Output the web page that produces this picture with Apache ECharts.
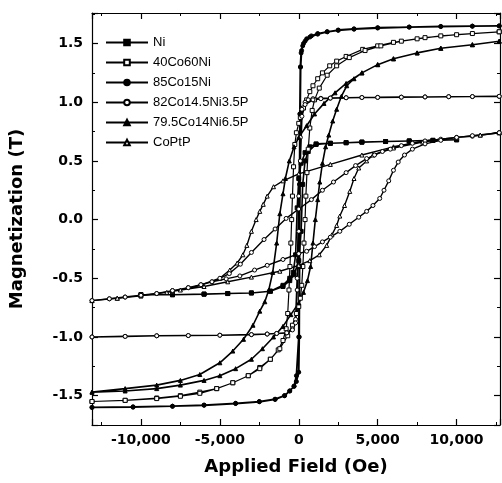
<!DOCTYPE html>
<html><head><meta charset="utf-8">
<script src="https://cdn.jsdelivr.net/npm/echarts@6/dist/echarts.min.js"></script>
<style>html,body{margin:0;padding:0;background:#fff}#c{width:502px;height:483px}</style>
</head><body><div id="c"></div>
<script>
// Series names (legend order)
const seriesNames = ['Ni', '40Co60Ni', '85Co15Ni', '82Co14.5Ni3.5P', '79.5Co14Ni6.5P', 'CoPtP'];

// Applied field H (Oe), magnetization M (T): [H, M]
const niDesc = [[10000,0.68],[8500,0.675],[7000,0.67],[5500,0.665],[4000,0.66],[3000,0.655],[2000,0.65],[1100,0.645],[700,0.62],[400,0.57],[150,0.48],[0,0.35],[-100,0.1],[-200,-0.3],[-350,-0.45],[-570,-0.5],[-1000,-0.56],[-1800,-0.61],[-3000,-0.625],[-4500,-0.63],[-6000,-0.635],[-8000,-0.64],[-10000,-0.64]];
const niAsc = [[-10000,-0.64],[-8000,-0.64],[-6000,-0.635],[-4500,-0.63],[-3000,-0.625],[-1800,-0.61],[-1000,-0.57],[-570,-0.52],[-300,-0.47],[0,-0.35],[150,-0.1],[250,0.3],[400,0.5],[600,0.58],[1100,0.64],[2000,0.65],[3000,0.655],[4000,0.66],[5500,0.665],[7000,0.67],[8500,0.675],[10000,0.68]];

const co40Desc = [[12700,1.60],[11000,1.585],[9000,1.565],[7500,1.54],[6000,1.51],[5000,1.48],[4050,1.45],[3000,1.39],[2400,1.35],[1960,1.31],[1500,1.25],[1200,1.2],[900,1.14],[700,1.09],[500,1.02],[300,0.95],[100,0.87],[0,0.82],[-150,0.74],[-250,0.64],[-330,0.45],[-400,0.2],[-450,0.0],[-500,-0.2],[-560,-0.4],[-620,-0.6],[-700,-0.8],[-800,-0.93],[-1000,-1.03],[-1300,-1.11],[-1800,-1.19],[-2470,-1.26],[-3200,-1.33],[-4180,-1.39],[-5200,-1.44],[-6270,-1.47],[-7500,-1.50],[-9000,-1.52],[-11000,-1.54],[-13100,-1.55]];
const co40Asc = [[-13100,-1.55],[-11000,-1.54],[-9000,-1.525],[-7500,-1.505],[-6270,-1.48],[-5200,-1.44],[-4180,-1.39],[-3200,-1.33],[-2470,-1.27],[-1800,-1.19],[-1200,-1.10],[-700,-0.99],[-400,-0.9],[-150,-0.8],[0,-0.74],[100,-0.67],[190,-0.56],[260,-0.4],[330,-0.2],[400,0.0],[450,0.2],[520,0.4],[600,0.6],[700,0.78],[850,0.93],[1000,1.02],[1300,1.12],[1800,1.23],[2400,1.31],[3200,1.38],[4200,1.44],[5200,1.48],[6500,1.52],[8000,1.55],[10000,1.575],[12700,1.60]];

const co85Desc = [[12700,1.65],[11000,1.648],[9000,1.645],[7000,1.64],[5000,1.635],[3500,1.625],[2500,1.615],[1800,1.60],[1200,1.585],[800,1.565],[500,1.54],[300,1.50],[180,1.44],[120,1.3],[90,0.9],[70,0.3],[50,-0.4],[30,-1.0],[0,-1.3],[-150,-1.38],[-300,-1.42],[-570,-1.46],[-900,-1.50],[-1500,-1.53],[-2500,-1.55],[-4000,-1.565],[-6000,-1.58],[-8000,-1.59],[-10500,-1.595],[-13100,-1.60]];
const co85Asc = [[-13100,-1.60],[-10500,-1.598],[-8000,-1.59],[-6000,-1.582],[-4000,-1.567],[-2500,-1.552],[-1500,-1.532],[-900,-1.50],[-570,-1.46],[-300,-1.42],[-150,-1.33],[0,-1.0],[30,-0.4],[50,0.3],[70,0.9],[100,1.3],[150,1.42],[250,1.48],[400,1.52],[700,1.555],[1200,1.58],[1800,1.60],[2500,1.612],[3500,1.622],[5000,1.632],[7000,1.64],[9000,1.645],[11000,1.648],[12700,1.65]];

const co82Desc = [[12700,1.05],[11000,1.048],[9500,1.047],[8000,1.045],[6500,1.043],[5000,1.041],[4000,1.04],[3000,1.038],[2000,1.035],[1400,1.033],[900,1.03],[600,1.02],[400,1.0],[200,0.94],[100,0.7],[0,0.2],[-100,-0.5],[-200,-0.85],[-400,-0.93],[-760,-0.965],[-1400,-0.97],[-2000,-0.975],[-3000,-0.98],[-5000,-0.985],[-7000,-0.988],[-9000,-0.99],[-11000,-0.995],[-13100,-1.0]];
const co82Asc = [[-13100,-1.0],[-11000,-0.995],[-9000,-0.99],[-7000,-0.988],[-5000,-0.985],[-3000,-0.98],[-2000,-0.975],[-1400,-0.97],[-760,-0.965],[-400,-0.94],[-200,-0.88],[-100,-0.6],[0,-0.1],[100,0.5],[200,0.88],[400,0.98],[900,1.02],[1400,1.03],[2000,1.035],[3000,1.038],[4000,1.04],[5000,1.041],[6500,1.043],[8000,1.045],[9500,1.047],[11000,1.048],[12700,1.05]];

const co79Desc = [[12700,1.52],[11000,1.49],[9000,1.46],[7500,1.42],[6000,1.37],[5000,1.32],[4000,1.25],[3000,1.16],[2300,1.08],[1600,0.99],[1000,0.9],[500,0.8],[0,0.7],[-300,0.62],[-600,0.5],[-850,0.35],[-1000,0.22],[-1200,0.05],[-1400,-0.2],[-1650,-0.45],[-1900,-0.6],[-2150,-0.7],[-2470,-0.78],[-2900,-0.9],[-3500,-1.02],[-4180,-1.12],[-5000,-1.22],[-6270,-1.32],[-7500,-1.37],[-9000,-1.41],[-11000,-1.44],[-13100,-1.47]];
const co79Asc = [[-13100,-1.47],[-11000,-1.46],[-9000,-1.44],[-7500,-1.41],[-6000,-1.37],[-5000,-1.33],[-4000,-1.27],[-3000,-1.19],[-2300,-1.10],[-1600,-1.0],[-1000,-0.91],[-500,-0.81],[0,-0.71],[300,-0.62],[550,-0.52],[750,-0.4],[900,-0.2],[1050,0.0],[1200,0.17],[1330,0.32],[1500,0.48],[1700,0.62],[1900,0.72],[2150,0.84],[2400,0.94],[2700,1.05],[3040,1.14],[3500,1.2],[4000,1.25],[5000,1.32],[6000,1.37],[7500,1.42],[9000,1.46],[11000,1.49],[12700,1.52]];

const coptpDesc = [[12700,0.74],[11500,0.72],[10000,0.70],[8000,0.67],[6000,0.62],[4000,0.55],[2000,0.47],[0,0.39],[-1000,0.33],[-1600,0.28],[-2000,0.2],[-2250,0.13],[-2470,0.07],[-2700,0.0],[-3000,-0.1],[-3290,-0.22],[-3540,-0.3],[-3900,-0.37],[-4370,-0.43],[-5000,-0.5],[-6270,-0.56],[-7500,-0.6],[-8360,-0.62],[-10000,-0.65],[-11500,-0.67],[-13100,-0.69]];
const coptpAsc = [[-13100,-0.69],[-11500,-0.67],[-10000,-0.65],[-8000,-0.61],[-6000,-0.57],[-4500,-0.53],[-3000,-0.49],[-1200,-0.44],[0,-0.39],[700,-0.35],[1300,-0.3],[1770,-0.22],[2100,-0.13],[2400,-0.05],[2600,0.03],[2900,0.12],[3230,0.24],[3500,0.35],[3800,0.44],[4300,0.5],[4700,0.55],[6000,0.61],[7850,0.66],[10000,0.70],[11500,0.72],[12700,0.74]];

// second, sheared loop drawn with open circles
const slantDesc = [[12700,0.74],[11000,0.71],[10000,0.70],[9000,0.685],[8000,0.67],[7200,0.65],[6500,0.63],[5800,0.60],[5300,0.58],[4800,0.55],[4300,0.52],[3600,0.46],[3000,0.40],[2200,0.32],[1500,0.25],[800,0.17],[0,0.09],[-800,0.01],[-1500,-0.08],[-2200,-0.17],[-3000,-0.28],[-3700,-0.38],[-4400,-0.46],[-5000,-0.5],[-5500,-0.53],[-6200,-0.555],[-7000,-0.58],[-8000,-0.605],[-9000,-0.63],[-10000,-0.645],[-11000,-0.66],[-12000,-0.675],[-13100,-0.69]];
const slantAsc = [[-13100,-0.69],[-12000,-0.675],[-11000,-0.66],[-10000,-0.645],[-9000,-0.63],[-8000,-0.605],[-7000,-0.58],[-6200,-0.555],[-5500,-0.53],[-4600,-0.505],[-3730,-0.48],[-2800,-0.43],[-2000,-0.39],[-1000,-0.34],[0,-0.29],[500,-0.27],[1000,-0.23],[1500,-0.19],[2000,-0.15],[2600,-0.1],[3200,-0.04],[3800,0.02],[4300,0.07],[4700,0.12],[5130,0.18],[5400,0.25],[5700,0.33],[6000,0.42],[6300,0.49],[6700,0.55],[7200,0.6],[8000,0.645],[9000,0.675],[10000,0.70],[11000,0.715],[12700,0.74]];

const xMin = -13100, xMax = 12750, yMin = -1.75, yMax = 1.76;

function mk(name, data, symbol, filled, lw) {
  return {
    name: name, type: 'line', data: data, symbol: symbol, symbolSize: 4,
    showSymbol: true, showAllSymbol: true, animation: false,
    lineStyle: { color: '#000', width: lw },
    itemStyle: { color: filled ? '#000' : '#fff', borderColor: '#000', borderWidth: 1 },
    emphasis: { disabled: true }
  };
}

const chart = echarts.init(document.getElementById('c'), null, { renderer: 'canvas' });
const axisFont = 'DejaVu Sans';
const baseX = {
  type: 'value', min: xMin, max: xMax,
  axisLine: { show: true, onZero: false, lineStyle: { color: '#000', width: 1.2 } },
  axisTick: { show: true, inside: true, length: 6, lineStyle: { color: '#000', width: 1.2 } },
  minorTick: { show: true, splitNumber: 2, length: 3, lineStyle: { color: '#000', width: 1 } },
  splitLine: { show: false }
};
const baseY = {
  type: 'value', min: yMin, max: yMax, splitNumber: 7,
  axisLine: { show: true, onZero: false, lineStyle: { color: '#000', width: 1.2 } },
  axisTick: { show: true, inside: true, length: 6, lineStyle: { color: '#000', width: 1.2 } },
  minorTick: { show: true, splitNumber: 2, length: 3, lineStyle: { color: '#000', width: 1 } },
  splitLine: { show: false }
};
chart.setOption({
  backgroundColor: '#fff',
  animation: false,
  grid: { left: 92, right: 2, top: 13, bottom: 58, containLabel: false },
  legend: {
    data: seriesNames, orient: 'vertical', left: 105, top: 36,
    itemWidth: 42, itemHeight: 7, itemGap: 7, padding: 0,
    textStyle: { fontFamily: 'Liberation Sans, Arial', fontSize: 13, color: '#000' }
  },
  xAxis: [
    Object.assign({}, baseX, {
      position: 'bottom',
      name: 'Applied Field (Oe)', nameLocation: 'middle', nameGap: 33,
      nameTextStyle: { fontFamily: axisFont, fontWeight: 'bold', fontSize: 18, color: '#000' },
      axisLabel: { show: true, margin: 8, showMinLabel: false, showMaxLabel: false,
        fontFamily: axisFont, fontWeight: 'bold', fontSize: 14, color: '#000' }
    }),
    Object.assign({}, baseX, { position: 'top', axisLabel: { show: false } })
  ],
  yAxis: [
    Object.assign({}, baseY, {
      position: 'left',
      name: 'Magnetization (T)', nameLocation: 'middle', nameGap: 66,
      nameTextStyle: { fontFamily: axisFont, fontWeight: 'bold', fontSize: 18, color: '#000' },
      axisLabel: { show: true, margin: 9, showMinLabel: false, showMaxLabel: false,
        fontFamily: axisFont, fontWeight: 'bold', fontSize: 14, color: '#000',
        formatter: function (v) { return v.toFixed(1); } }
    }),
    Object.assign({}, baseY, { position: 'right', axisLabel: { show: false } })
  ],
  series: [
    mk(seriesNames[0], niDesc.concat(niAsc), 'rect', true, 1.6),
    mk(seriesNames[1], co40Desc.concat(co40Asc), 'rect', false, 1.2),
    mk(seriesNames[2], co85Desc.concat(co85Asc), 'circle', true, 1.8),
    mk(seriesNames[3], co82Desc.concat(co82Asc), 'circle', false, 1.6),
    mk(seriesNames[4], co79Desc.concat(co79Asc), 'triangle', true, 1.6),
    mk(seriesNames[5], coptpDesc.concat(coptpAsc), 'triangle', false, 1.4),
    mk('sheared', slantDesc.concat(slantAsc), 'circle', false, 1.4)
  ]
});
</script></body></html>
